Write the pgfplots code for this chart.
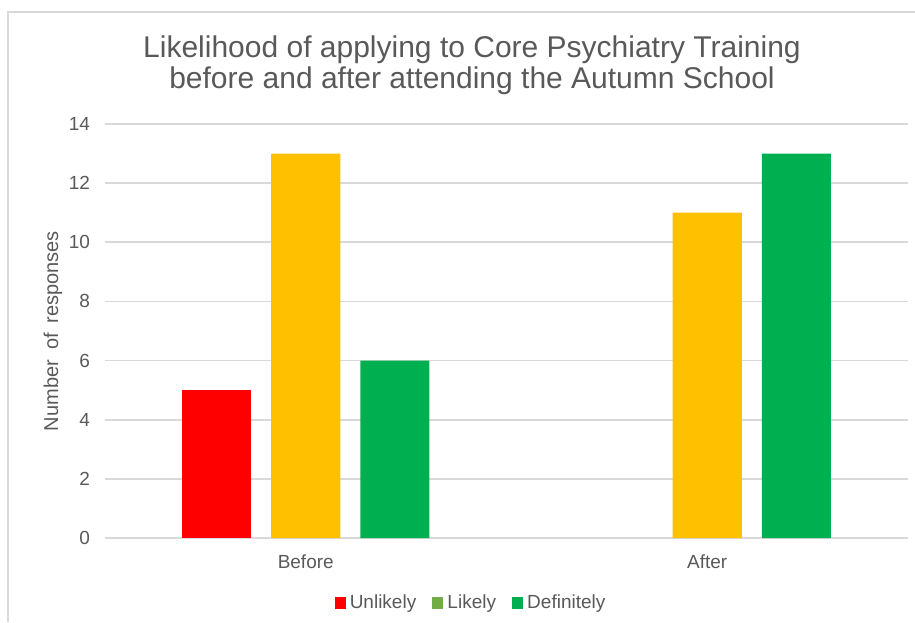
\documentclass[border=0pt]{standalone}
\usepackage{pgfplots}
\pgfplotsset{compat=1.18}
\usepackage{fontspec}
\setmainfont{Liberation Sans}
\definecolor{txt}{HTML}{595959}
\definecolor{gridc}{HTML}{D9D9D9}
\definecolor{cred}{HTML}{FF0000}
\definecolor{cyel}{HTML}{FFC000}
\definecolor{cgrn}{HTML}{00B050}
\definecolor{clgrn}{HTML}{70AD47}
\begin{document}
\begin{tikzpicture}
\useasboundingbox (0,0) rectangle (457.5pt,311pt);
\draw[gridc, line width=1pt] (4pt,0) -- (4pt,305pt) -- (457.5pt,305pt);
\node[align=center, text=txt, font=\fontsize{15}{15.5}\selectfont] at (236pt,278.5pt)
  {Likelihood of applying to Core Psychiatry Training\\before and after attending the Autumn School};
\begin{axis}[
  at={(52.5pt,42pt)}, anchor=south west,
  scale only axis, width=401.5pt, height=207pt,
  ybar, bar width=0.172,
  xmin=-0.5, xmax=1.5, ymin=0, ymax=14,
  xtick={0,1}, xticklabels={Before, After},
  ytick={0,2,...,14},
  /pgf/number format/assume math mode=true,
  major tick length=0pt,
  axis line style={draw=none},
  ymajorgrids, grid style={gridc, line width=0.8pt},
  tick label style={text=txt, font=\fontsize{9.5}{11}\selectfont},
  yticklabel style={xshift=-4pt},
  xticklabel style={yshift=-5pt},
  ylabel={Number\hspace{0.5em}of\hspace{0.5em}responses},
  every axis y label/.style={at={(rel axis cs:0,0.5)}, xshift=-26pt, rotate=90, anchor=center, text=txt, font=\fontsize{10}{11}\selectfont},
  legend columns=3,
  legend style={draw=none, at={(0.457,-0.157)}, anchor=center, text=txt, font=\fontsize{9.5}{11}\selectfont, /tikz/every even column/.append style={column sep=6pt}},
  legend cell align=left,
]
\addplot[fill=cred, draw=none, bar shift=-0.223,
  legend image code/.code={\fill[cred] (0pt,-2.8pt) rectangle (5.6pt,2.8pt);}]
  coordinates {(0,5)};
\addlegendentry{Unlikely}
\addplot[fill=cyel, draw=none, bar shift=0,
  legend image code/.code={\fill[clgrn] (0pt,-2.8pt) rectangle (5.6pt,2.8pt);}]
  coordinates {(0,13) (1,11)};
\addlegendentry{Likely}
\addplot[fill=cgrn, draw=none, bar shift=0.222,
  legend image code/.code={\fill[cgrn] (0pt,-2.8pt) rectangle (5.6pt,2.8pt);}]
  coordinates {(0,6) (1,13)};
\addlegendentry{Definitely}
\end{axis}
\end{tikzpicture}
\end{document}
